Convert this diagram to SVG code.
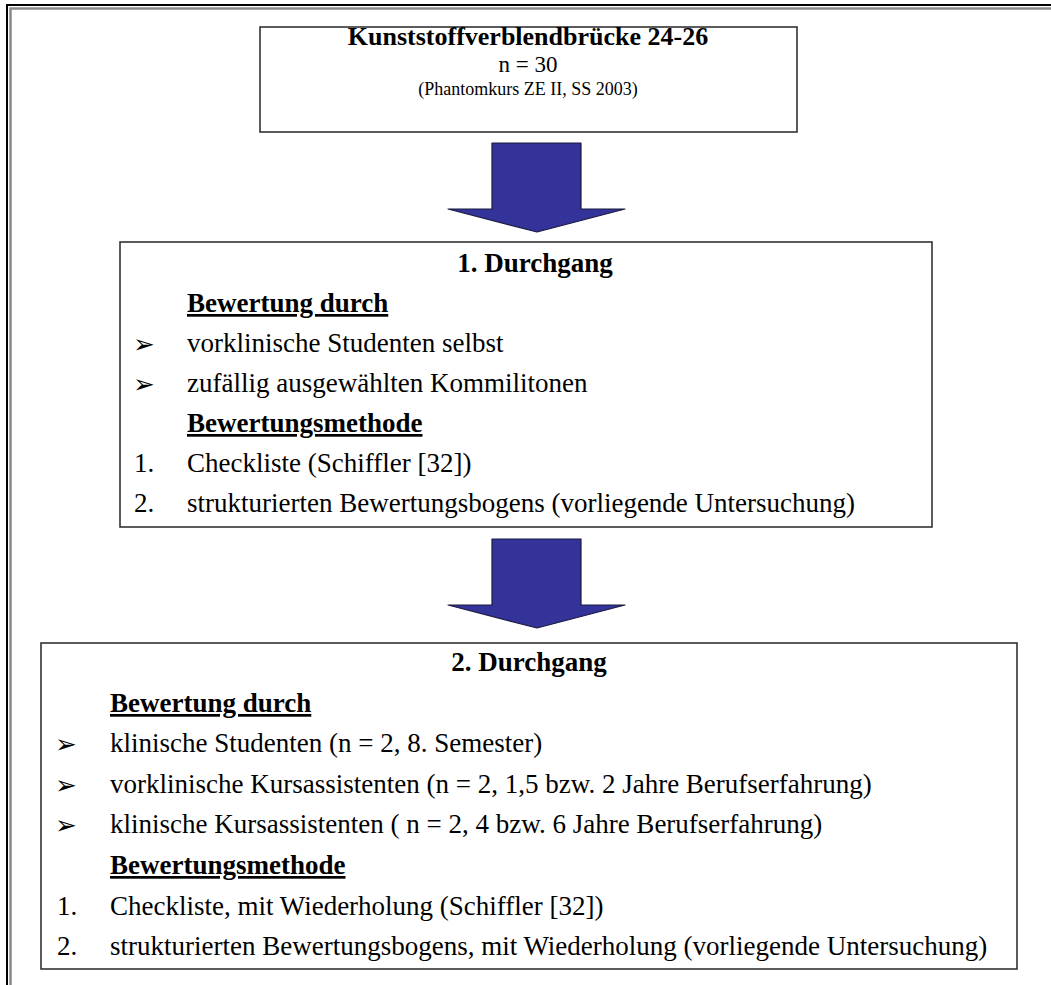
<svg xmlns="http://www.w3.org/2000/svg" width="1051" height="985" viewBox="0 0 1051 985">
<style>
.t{font-family:"Liberation Serif","Times New Roman",serif;fill:#000}
.b{font-weight:bold}
.r{font-size:27px}
.h{font-size:27px;font-weight:bold;text-decoration:underline}
.bul{font-family:"DejaVu Sans",sans-serif;font-size:26px;fill:#000}
.box{fill:#fff;stroke:#333;stroke-width:1.6}
.arr{fill:#333399;stroke:#1a1a40;stroke-width:1.2;stroke-linejoin:round}
</style>
<rect width="1051" height="985" fill="#fff"/>
<g id="frame" fill="none">
<path d="M1051,5 H7 V985" stroke="#000" stroke-width="2"/>
<path d="M1051,8.5 H10.5 V985" stroke="#8a8a8a" stroke-width="2.5"/>
</g>
<g id="node-top">
<rect class="box" x="260" y="27" width="537" height="105"/>
<text class="t b" x="528" y="45" font-size="26" text-anchor="middle">Kunststoffverblendbrücke 24-26</text>
<text class="t" x="528" y="72" font-size="23" text-anchor="middle">n = 30</text>
<text class="t" x="528" y="95" font-size="18" text-anchor="middle">(Phantomkurs ZE II, SS 2003)</text>
</g>
<g id="connectors">
<polygon class="arr" points="492,143 581,143 581,209 625,209 537,232 448,209 492,209"/>
<polygon class="arr" points="492,539 581,539 581,605 625,605 537,628 448,605 492,605"/>
</g>
<g id="node-durchgang1">
<rect class="box" x="120" y="242" width="812" height="285"/>
<text class="t b r" x="535" y="272" text-anchor="middle">1. Durchgang</text>
<text class="t h" x="187" y="312">Bewertung durch</text>
<text class="bul" x="133" y="353">➢</text>
<text class="t r" x="187" y="352">vorklinische Studenten selbst</text>
<text class="bul" x="133" y="393">➢</text>
<text class="t r" x="187" y="392">zufällig ausgewählten Kommilitonen</text>
<text class="t h" x="187" y="432">Bewertungsmethode</text>
<text class="t r" x="134" y="472">1.</text>
<text class="t r" x="187" y="472">Checkliste (Schiffler [32])</text>
<text class="t r" x="134" y="512">2.</text>
<text class="t r" x="187" y="512">strukturierten Bewertungsbogens (vorliegende Untersuchung)</text>
</g>
<g id="node-durchgang2">
<rect class="box" x="41" y="643" width="976" height="326"/>
<text class="t b r" x="529" y="671" text-anchor="middle">2. Durchgang</text>
<text class="t h" x="110" y="712">Bewertung durch</text>
<text class="bul" x="55" y="753">➢</text>
<text class="t r" x="110" y="752">klinische Studenten (n = 2, 8. Semester)</text>
<text class="bul" x="55" y="794">➢</text>
<text class="t r" x="110" y="793">vorklinische Kursassistenten (n = 2, 1,5 bzw. 2 Jahre Berufserfahrung)</text>
<text class="bul" x="55" y="834">➢</text>
<text class="t r" x="110" y="833">klinische Kursassistenten ( n = 2, 4 bzw. 6 Jahre Berufserfahrung)</text>
<text class="t h" x="110" y="874">Bewertungsmethode</text>
<text class="t r" x="57" y="915">1.</text>
<text class="t r" x="110" y="915">Checkliste, mit Wiederholung (Schiffler [32])</text>
<text class="t r" x="57" y="955">2.</text>
<text class="t r" x="110" y="955">strukturierten Bewertungsbogens, mit Wiederholung (vorliegende Untersuchung)</text>
</g>
</svg>
